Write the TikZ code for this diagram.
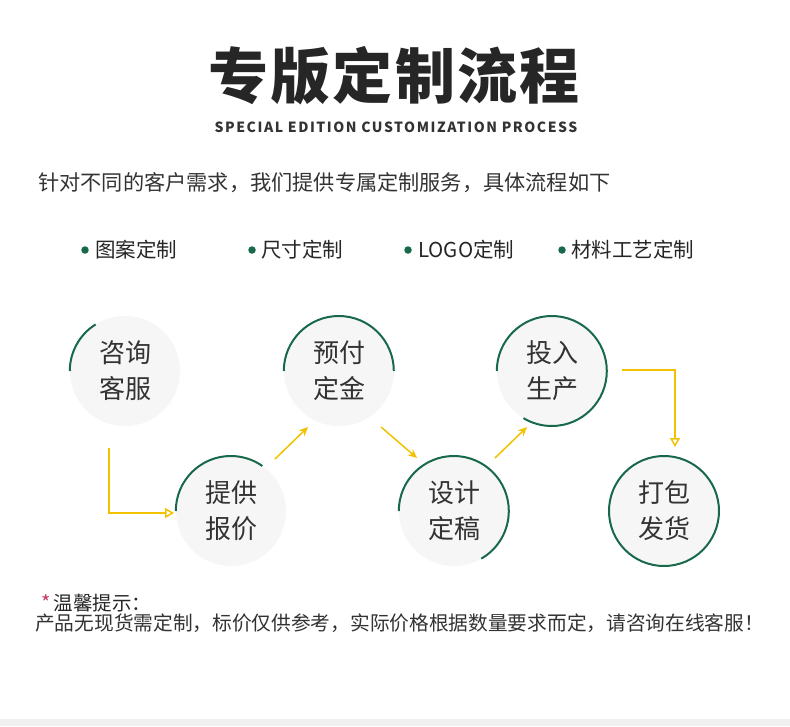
\documentclass[tikz,border=0pt]{standalone}
\usepackage{fontspec}
\setmainfont{Noto Sans CJK SC}
\usetikzlibrary{arrows.meta,calc,positioning}
\definecolor{ringgreen}{HTML}{17694A}
\definecolor{flowyellow}{HTML}{F2C200}
\definecolor{inkgray}{HTML}{333333}
\definecolor{discgray}{HTML}{F6F6F6}
\definecolor{notered}{HTML}{C83C64}
\tikzset{
    x=1pt, y=-1pt,
    text=inkgray,
    % --- styles ---
    disc/.style={circle, fill=discgray, minimum size=110pt, inner sep=0pt,
                 align=center, font=\fontsize{26}{36}\selectfont},
    ring/.style={draw=ringgreen, line width=2pt},
    flow/.style={draw=flowyellow, line width=1.5pt},
    fillhead/.style={flow, -{Stealth[length=9pt,width=8pt]}},
    openhead/.style={flow, -{Triangle[open,length=9pt,width=10pt]}},
    dot/.style={circle, fill=ringgreen, inner sep=0pt, minimum size=7.5pt},
    tag/.style={inner sep=0pt, font=\fontsize{20.5}{24}\selectfont, text=black!85}
}

\begin{document}
\begin{tikzpicture}
    \useasboundingbox[fill=white] (0,0) rectangle (790,726);
    \fill[gray!12] (0,719) rectangle (790,726);

    % heading
    \node[inner sep=0pt, text=black!85] (title) at (394,76)
        {\fontsize{60}{60}\selectfont\bfseries\addfontfeatures{LetterSpace=4}专版定制流程};
    \node[inner sep=0pt] (subtitle) at (396,127)
        {\fontsize{14}{14}\selectfont\bfseries\addfontfeatures{LetterSpace=11}SPECIAL EDITION CUSTOMIZATION PROCESS};
    \node[anchor=west, inner sep=0pt] (intro) at (38,183)
        {\fontsize{21.2}{24}\selectfont 针对不同的客户需求，我们提供专属定制服务，具体流程如下};

    % options
    \node[dot] (b1) at (85,250) {};
    \node[tag, right=6pt of b1] (t1) {图案定制};
    \node[dot] (b2) at (252,250) {};
    \node[tag, right=5pt of b2] (t2) {尺寸定制};
    \node[dot] (b3) at (408,250) {};
    \node[tag, right=6pt of b3] (t3) {LOGO定制};
    \node[dot] (b4) at (562,250) {};
    \node[tag, right=5pt of b4] (t4) {材料工艺定制};

    % steps
    \node[disc] (c1) at (125,371) {咨询\\客服};
    \node[disc] (c2) at (231,511) {提供\\报价};
    \node[disc] (c3) at (339,371) {预付\\定金};
    \node[disc] (c4) at (454,511) {设计\\定稿};
    \node[disc] (c5) at (552,371) {投入\\生产};
    \node[disc, ring] (c6) at (664,511) {打包\\发货};

    \draw[ring] (c1.180) arc[start angle=180, end angle=122, radius=55pt];
    \draw[ring] (c2.180) arc[start angle=180, end angle=55, radius=55pt];
    \draw[ring] (c3.180) arc[start angle=180, end angle=0, radius=55pt];
    \draw[ring] (c4.180) arc[start angle=180, end angle=-60, radius=55pt];
    \draw[ring] (c5.180) arc[start angle=180, end angle=-121, radius=55pt];

    \draw[openhead] ($(c1)+(-16,77)$) |- ($(c2)+(-57,2)$);
    \draw[fillhead] ($(c2)+(44,-52)$) -- ($(c3)+(-31,56)$);
    \draw[fillhead] ($(c3)+(42,56)$) -- ($(c4)+(-37,-53)$);
    \draw[fillhead] ($(c4)+(41,-53)$) -- ($(c5)+(-25,56)$);
    \draw[openhead] ($(c5)+(70,-1)$) -| ($(c6)+(11,-64)$);

    % note
    \node[anchor=west, inner sep=0pt, text=notered] (star) at (41,603)
        {\fontsize{20}{20}\selectfont *};
    \node[tag, right=3pt of star, font=\fontsize{19.5}{22}\selectfont] (notehead) {温馨提示：};
    \node[anchor=west, inner sep=0pt] (note) at (35,623)
        {\fontsize{19.7}{22}\selectfont 产品无现货需定制，标价仅供参考，实际价格根据数量要求而定，请咨询在线客服！};
\end{tikzpicture}
\end{document}
